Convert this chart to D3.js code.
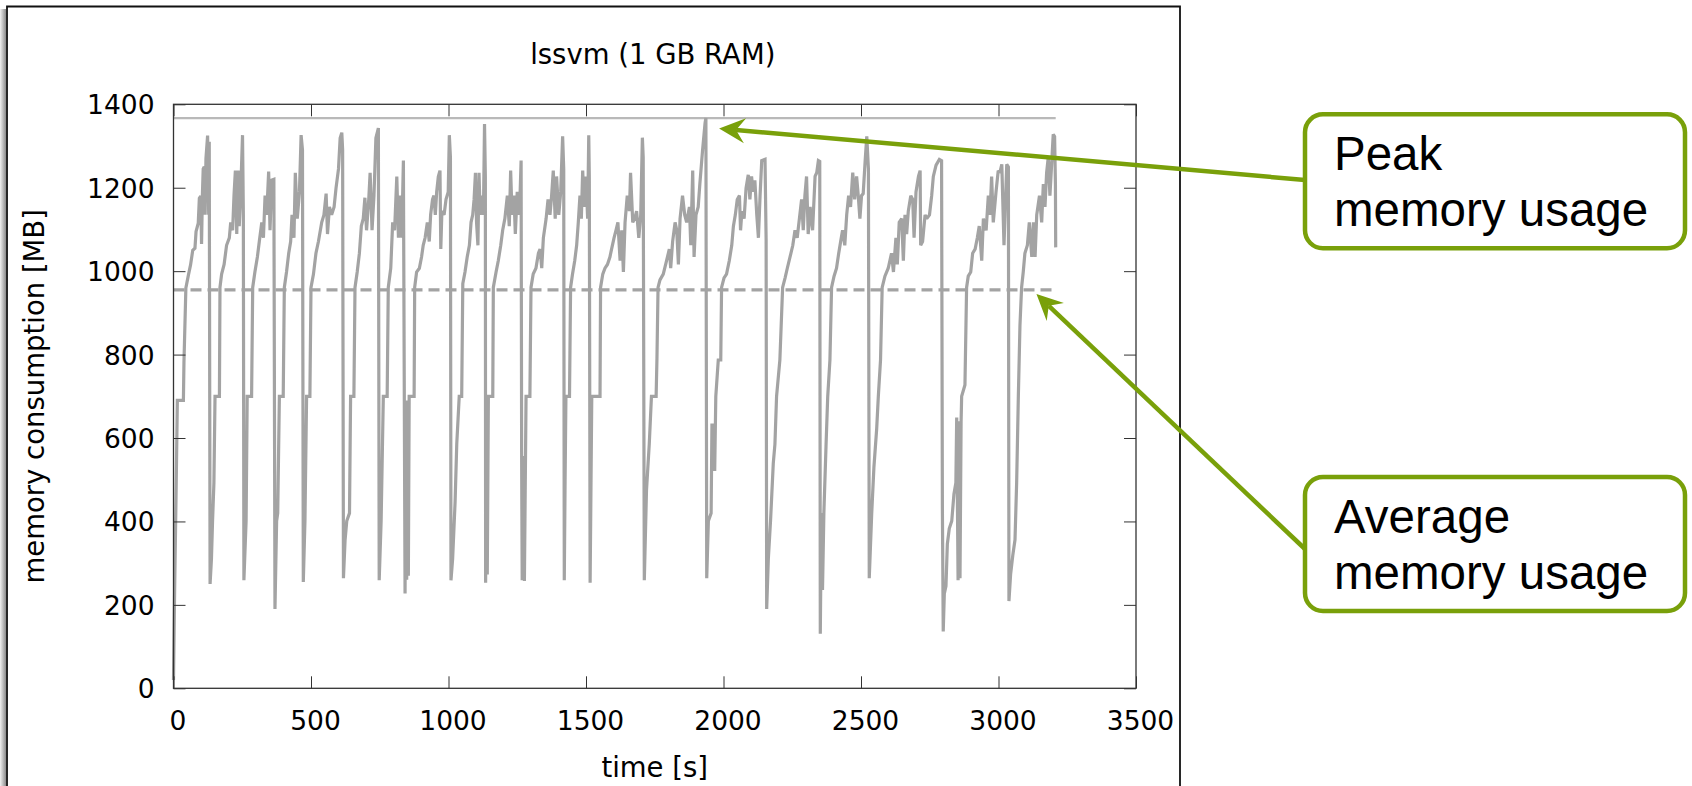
<!DOCTYPE html>
<html lang="en">
<head>
  <meta charset="UTF-8"/>
  <title>lssvm (1 GB RAM) memory consumption</title>
  <script src="https://d3js.org/d3.v7.min.js"></script>
  <style>
    body { margin: 0; background: #fff; }
    svg { display: block; background: #fff; }
  </style>
</head>
<body>
  <svg width="1692" height="786"></svg>

  <script>
  // memory trace: [time (s), memory (MB)]
  const trace = [
    [0,20],[4,230],[9,450],[14,690],[36,690],[38,780],[45,960],[54,990],[62,1015],[70,1050],[78,1055],[82,1095],
    [90,1115],[94,1175],[99,1180],[102,1065],[105,1180],[108,1245],[112,1250],[115,1135],[118,1270],[124,1325],
    [128,1135],[130,1310],[133,250],
    [138,310],[142,401],[147,493],[151,700],[167,700],[169,961],[175,993],[184,1016],[193,1062],[203,1080],
    [208,1117],[215,1098],[220,1181],[225,1241],[230,1089],[235,1241],[239,1108],[244,1181],[251,1326],
    [254,1135],[256,259],
    [264,401],[268,700],[284,700],[288,961],[296,998],[305,1034],[312,1071],[321,1117],[327,1080],[333,1181],
    [339,1135],[346,1239],[351,1098],[357,1218],[365,1220],[369,190],
    [375,401],[379,420],[385,700],[399,700],[403,961],[411,998],[419,1043],[426,1071],[431,1135],[438,1080],
    [443,1236],[450,1126],[458,1190],[464,1326],[469,1291],[472,255],
    [478,401],[484,700],[496,700],[500,961],[509,993],[518,1043],[527,1071],[539,1117],[547,1135],[555,1186],
    [560,1089],[567,1154],[575,1135],[584,1154],[591,1199],[600,1245],[606,1319],[612,1332],[615,1291],[618,264],
    [624,356],[630,401],[640,420],[644,700],[656,700],[660,961],[668,998],[676,1043],[683,1108],[690,1126],
    [696,1176],[702,1098],[710,1172],[715,1236],[722,1098],[729,1181],[736,1319],[745,1343],[748,259],
    [755,401],[763,700],[777,700],[781,961],[790,1007],[797,1117],[804,1098],[812,1227],[818,1080],[824,1181],
    [830,1080],[836,1265],[842,227],
    [845,680],[848,260],[851,690],[854,270],[857,700],[875,700],[877,961],[884,998],[894,1007],[902,1034],
    [908,1062],[915,1080],[923,1117],[930,1071],[935,1135],[942,1172],[947,1181],[952,1135],[957,1190],
    [963,1227],[969,1241],[972,1053],[976,1144],[984,1135],[991,1172],[999,1190],[1003,1326],[1007,1273],[1009,259],
    [1015,310],[1024,447],[1030,585],[1039,700],[1048,700],[1052,970],[1060,998],[1068,1034],[1076,1062],
    [1082,1117],[1088,1135],[1093,1172],[1098,1236],[1102,1117],[1107,1062],[1111,1236],[1115,1135],[1121,1181],
    [1127,1135],[1131,1353],[1134,1227],[1135,253],
    [1138,630],[1141,273],[1145,700],[1161,700],[1163,961],[1173,998],[1181,1025],[1190,1062],[1197,1098],
    [1205,1126],[1214,1181],[1221,1108],[1226,1241],[1231,1135],[1238,1181],[1243,1089],[1250,1190],[1258,1135],
    [1264,1265],[1266,548],[1268,259],[1272,557],[1276,257],
    [1282,700],[1296,700],[1300,961],[1308,993],[1318,1007],[1327,1043],[1333,1053],[1339,1007],[1345,1080],
    [1355,1126],[1362,1172],[1369,1135],[1375,1181],[1381,1241],[1388,1126],[1393,1227],[1401,1135],[1408,1190],
    [1415,1323],[1419,1245],[1421,259],
    [1424,500],[1427,700],[1440,700],[1444,961],[1451,993],[1459,1025],[1466,1062],[1472,1117],[1478,1181],
    [1483,1126],[1488,1241],[1493,1154],[1500,1227],[1506,1126],[1510,1326],[1512,1227],[1515,253],
    [1521,700],[1551,700],[1553,961],[1561,993],[1569,1007],[1578,1016],[1587,1034],[1593,1053],[1602,1080],
    [1609,1098],[1616,1117],[1624,1025],[1630,1098],[1636,998],[1642,1117],[1650,1181],[1658,1144],[1662,1236],
    [1670,1117],[1677,1126],[1684,1144],[1692,1080],[1699,1135],[1705,1320],[1708,1273],[1712,259],
    [1720,475],[1730,585],[1738,700],[1755,700],[1758,790],[1762,961],[1769,979],[1781,993],[1793,1025],
    [1803,1053],[1808,1007],[1815,1071],[1824,1117],[1830,1098],[1836,1016],[1842,1126],[1851,1181],[1859,1135],
    [1866,1117],[1876,1154],[1881,1062],[1888,1241],[1893,1034],[1900,1135],[1908,1154],[1914,1209],[1924,1291],
    [1933,1355],[1936,1367],[1939,264],
    [1945,401],[1955,420],[1958,631],[1966,631],[1968,521],[1972,700],[1981,787],[1990,787],[1993,961],
    [2002,984],[2011,993],[2021,1025],[2030,1062],[2036,1108],[2043,1135],[2050,1172],[2058,1181],[2062,1098],
    [2067,1144],[2075,1126],[2082,1199],[2090,1231],[2096,1172],[2102,1227],[2108,1190],[2114,1218],[2121,1135],
    [2127,1080],[2133,1181],[2139,1265],[2151,1268],[2155,1075],[2157,190],
    [2163,310],[2171,401],[2181,539],[2187,585],[2193,700],[2205,787],[2215,961],[2224,984],[2232,1007],
    [2242,1034],[2252,1062],[2260,1098],[2268,1080],[2276,1126],[2284,1172],[2290,1098],[2296,1181],[2302,1227],
    [2308,1089],[2315,1154],[2324,1098],[2333,1227],[2339,1236],[2345,1265],[2350,1263],[2352,131],[2356,420],
    [2360,236],[2365,420],[2373,585],
    [2379,700],[2387,787],[2393,961],[2402,988],[2411,1007],[2419,1043],[2426,1071],[2433,1098],[2441,1062],
    [2448,1135],[2455,1181],[2462,1154],[2470,1236],[2477,1172],[2484,1227],[2490,1181],[2496,1126],[2502,1181],
    [2508,1186],[2515,1263],[2521,1323],[2527,1245],[2530,264],
    [2539,420],[2547,530],[2557,622],[2563,700],[2571,787],[2577,961],[2587,988],[2599,1007],[2611,1043],
    [2618,998],[2624,1053],[2627,1080],[2632,1016],[2639,1117],[2648,1126],[2654,1025],[2660,1135],[2666,1089],
    [2672,1144],[2681,1181],[2688,1172],[2693,1080],[2700,1190],[2709,1227],[2715,1241],[2717,1062],[2724,1071],
    [2733,1135],[2739,1126],[2749,1135],[2757,1181],[2763,1227],[2773,1254],[2785,1268],[2793,1265],[2796,429],
    [2799,136],
    [2803,227],[2809,245],[2814,346],[2821,383],[2830,401],[2838,466],[2845,493],[2848,649],[2853,259],
    [2856,640],[2860,264],[2864,640],[2866,700],[2878,727],[2884,961],[2890,988],[2899,998],[2906,1043],
    [2915,1053],[2923,1080],[2930,1108],[2939,1025],[2945,1126],[2955,1098],[2963,1181],[2969,1135],[2975,1227],
    [2981,1117],[2991,1190],[2999,1241],[3005,1236],[3012,1256],[3020,1062],[3030,1256],[3036,1250],[3038,209],
    [3044,273],[3052,319],[3060,356],[3066,493],[3072,695],[3078,869],[3084,961],[3090,998],[3096,1043],
    [3105,1062],[3112,1117],[3121,1034],[3127,1117],[3133,1034],[3139,1135],[3149,1181],[3157,1117],[3163,1209],
    [3169,1154],[3175,1236],[3181,1273],[3187,1181],[3193,1254],[3199,1328],[3204,1323],[3207,1209],[3208,1057]
  ];

  const xTicks = [0, 500, 1000, 1500, 2000, 2500, 3000, 3500];
  const yTicks = [0, 200, 400, 600, 800, 1000, 1200, 1400];

  const peakMB = 1367;   // solid reference line
  const avgMB = 955;     // dashed reference line

  const peakNote = ['Peak', 'memory usage'];
  const avgNote = ['Average', 'memory usage'];
  // points the arrows aim at, in data units [time, MB]
  const peakTarget = [1984, 1342];
  const avgTarget = [3138, 945];

  const svg = d3.select('svg');
  const green = '#79a00a';
  const lineGrey = '#a3a3a3';

  const x = d3.scaleLinear().domain([0, 3500]).range([173.5, 1136]);
  const y = d3.scaleLinear().domain([0, 1400]).range([688.3, 104.3]);

  // frame of the pasted picture, with a small shadow on the left
  const grad = svg.append('defs').append('linearGradient')
    .attr('id', 'shade').attr('x1', 0).attr('x2', 1).attr('y1', 0).attr('y2', 0);
  grad.append('stop').attr('offset', 0).attr('stop-color', '#f2f2f2');
  grad.append('stop').attr('offset', 1).attr('stop-color', '#8c8c8c');

  svg.append('rect')
    .attr('x', 0).attr('y', 9).attr('width', 6).attr('height', 786)
    .attr('fill', 'url(#shade)');

  svg.append('path')
    .attr('d', 'M7,786 V6.5 H1180 V786')
    .attr('fill', 'none')
    .attr('stroke', '#111')
    .attr('stroke-width', 1.8);

  const gp = svg.append('g')
    .attr('font-family', "'DejaVu Sans', sans-serif");

  // reference lines
  gp.append('line')
    .attr('x1', x(0)).attr('x2', x(d3.max(trace, d => d[0])))
    .attr('y1', y(peakMB)).attr('y2', y(peakMB))
    .attr('stroke', '#b9b9b9')
    .attr('stroke-width', 2.2);

  gp.append('line')
    .attr('x1', x(0)).attr('x2', x(d3.max(trace, d => d[0])))
    .attr('y1', y(avgMB)).attr('y2', y(avgMB))
    .attr('stroke', lineGrey)
    .attr('stroke-width', 3.3)
    .attr('stroke-dasharray', '11,6');

  // memory trace
  const line = d3.line()
    .x(d => x(d[0]))
    .y(d => y(d[1]));

  gp.append('path')
    .datum(trace)
    .attr('d', line)
    .attr('fill', 'none')
    .attr('stroke', lineGrey)
    .attr('stroke-width', 3.2)
    .attr('stroke-linejoin', 'miter')
    .attr('stroke-miterlimit', 2);

  // axes, gnuplot style: inward ticks mirrored on all four sides
  const tickLen = -12;
  const fmt = d3.format('d');

  gp.append('g')
    .attr('transform', `translate(0, ${y(0)})`)
    .call(d3.axisBottom(x).tickValues(xTicks).tickFormat(fmt)
      .tickSizeInner(tickLen).tickSizeOuter(0).tickPadding(23))
    .call(g => g.select('.domain').remove())
    .call(g => g.selectAll('text').attr('dx', 4).attr('fill', '#000'))
    .attr('font-size', 26.5)
    .attr('font-family', "'DejaVu Sans', sans-serif")
    .attr('color', '#333');

  gp.append('g')
    .attr('transform', `translate(${x(0)}, 0)`)
    .call(d3.axisLeft(y).tickValues(yTicks).tickFormat(fmt)
      .tickSizeInner(tickLen).tickSizeOuter(0).tickPadding(19))
    .call(g => g.select('.domain').remove())
    .call(g => g.selectAll('text').attr('dy', '0.36em').attr('fill', '#000'))
    .attr('font-size', 26.5)
    .attr('font-family', "'DejaVu Sans', sans-serif")
    .attr('color', '#333');

  gp.append('g')
    .attr('transform', `translate(0, ${y(1400)})`)
    .call(d3.axisTop(x).tickValues(xTicks).tickSizeInner(tickLen).tickSizeOuter(0).tickFormat(''))
    .call(g => g.select('.domain').remove())
    .attr('color', '#333');

  gp.append('g')
    .attr('transform', `translate(${x(3500)}, 0)`)
    .call(d3.axisRight(y).tickValues(yTicks).tickSizeInner(tickLen).tickSizeOuter(0).tickFormat(''))
    .call(g => g.select('.domain').remove())
    .attr('color', '#333');

  gp.append('rect')
    .attr('x', x(0)).attr('y', y(1400))
    .attr('width', x(3500) - x(0)).attr('height', y(0) - y(1400))
    .attr('fill', 'none')
    .attr('stroke', '#333')
    .attr('stroke-width', 1.3);

  // titles
  gp.append('text')
    .attr('x', (x(0) + x(3500)) / 2 - 2)
    .attr('y', 64)
    .attr('text-anchor', 'middle')
    .attr('font-size', 27.5)
    .text('lssvm (1 GB RAM)');

  gp.append('text')
    .attr('x', (x(0) + x(3500)) / 2)
    .attr('y', 777)
    .attr('text-anchor', 'middle')
    .attr('font-size', 27.5)
    .text('time [s]');

  gp.append('text')
    .attr('transform', `translate(44, ${(y(0) + y(1400)) / 2}) rotate(-90)`)
    .attr('text-anchor', 'middle')
    .attr('font-size', 27.5)
    .text('memory consumption [MB]');

  // annotation callouts
  const box = { x: 1305, w: 380, h: 134 };

  function arrow(from, tip) {
    const dx = from[0] - tip[0], dy = from[1] - tip[1];
    const len = Math.hypot(dx, dy);
    const ux = dx / len, uy = dy / len;
    const nx = -uy, ny = ux;
    const L = 26, W = 12.5, N = 17;
    svg.append('line')
      .attr('x1', from[0]).attr('y1', from[1])
      .attr('x2', tip[0] + ux * N).attr('y2', tip[1] + uy * N)
      .attr('stroke', green)
      .attr('stroke-width', 4.5);
    svg.append('path')
      .attr('d', `M${tip[0]},${tip[1]}` +
        `L${tip[0] + ux * L + nx * W},${tip[1] + uy * L + ny * W}` +
        `L${tip[0] + ux * N},${tip[1] + uy * N}` +
        `L${tip[0] + ux * L - nx * W},${tip[1] + uy * L - ny * W}Z`)
      .attr('fill', green);
  }

  function callout(top, lines, anchorY, target) {
    arrow([box.x, anchorY], [x(target[0]), y(target[1])]);
    svg.append('rect')
      .attr('x', box.x).attr('y', top)
      .attr('width', box.w).attr('height', box.h)
      .attr('rx', 18).attr('ry', 18)
      .attr('fill', '#fff')
      .attr('stroke', green)
      .attr('stroke-width', 4.5);
    svg.append('text')
      .attr('font-family', "'Liberation Sans', Arial, sans-serif")
      .attr('font-size', 47.5)
      .attr('fill', '#000')
      .selectAll('tspan')
      .data(lines)
      .join('tspan')
      .attr('x', 1334)
      .attr('y', (d, i) => top + 55.7 + i * 56)
      .text(d => d);
  }

  callout(114.3, peakNote, 180, peakTarget);
  callout(477, avgNote, 549, avgTarget);
  </script>
</body>
</html>
